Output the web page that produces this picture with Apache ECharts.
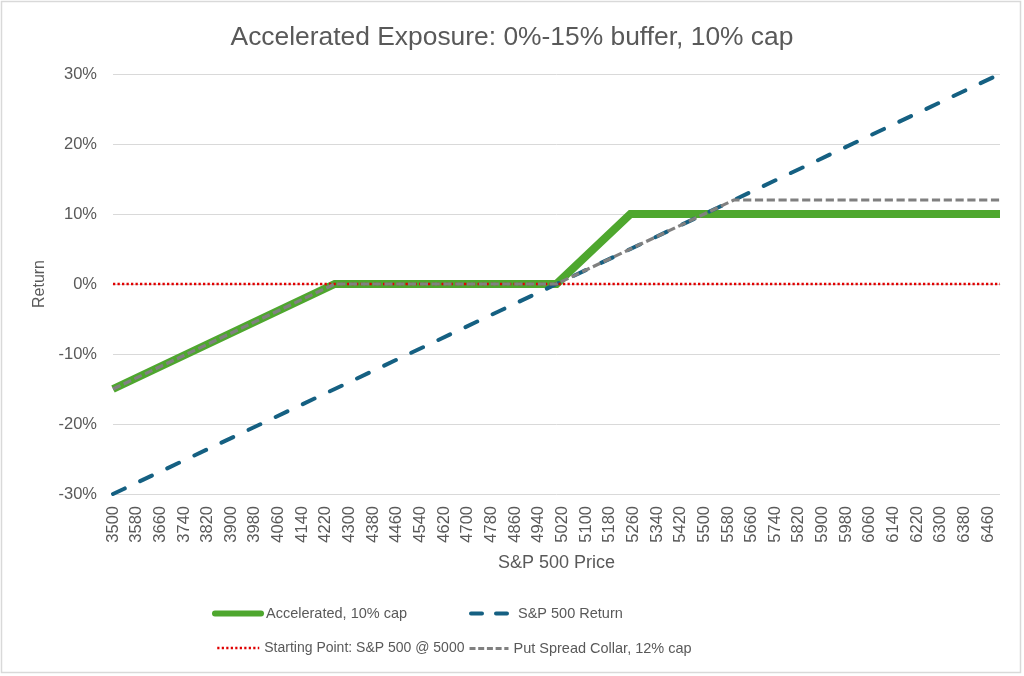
<!DOCTYPE html>
<html>
<head>
<meta charset="utf-8">
<script src="https://cdn.jsdelivr.net/npm/echarts@6/dist/echarts.min.js"></script>
<style>
html,body{margin:0;padding:0;background:#fff;}
#chart{width:1024px;height:676px;}
</style>
</head>
<body>
<div id="chart"></div>
<script>
const chartTitle = 'Accelerated Exposure: 0%-15% buffer, 10% cap';
const xAxisName = 'S&P 500 Price';
const yAxisName = 'Return';
// S&P 500 price points where the payoff lines change slope
const prices = [3500, 4250, 5000, 5250, 5600, 6500];
// returns in percent at each price
const accelerated = [-15, 0, 0, 10, 10, 10];
const sp500Return = [-30, -15, 0, 5, 12, 30];
const startingPoint = [0, 0, 0, 0, 0, 0];
const putSpreadCollar = [-15, 0, 0, 5, 12, 12];
const seriesNames = ['Accelerated, 10% cap', 'S&P 500 Return', 'Starting Point: S&P 500 @ 5000', 'Put Spread Collar, 12% cap'];
const xTickLabels = [3500, 3580, 3660, 3740, 3820, 3900, 3980, 4060, 4140, 4220, 4300, 4380, 4460, 4540, 4620, 4700, 4780, 4860, 4940, 5020, 5100, 5180, 5260, 5340, 5420, 5500, 5580, 5660, 5740, 5820, 5900, 5980, 6060, 6140, 6220, 6300, 6380, 6460];
const yMin = -30, yMax = 30, yStep = 10;

const FONT = '"Liberation Sans", Arial, sans-serif';
const TXT = '#595959';
const pair = arr => prices.map((p, i) => [p, arr[i]]);

const chart = echarts.init(document.getElementById('chart'), null, {renderer: 'canvas'});

function legendAt(name, left, top, itemWidth, lineStyle, fontSize) {
  return {
    data: [name], left: left, top: top, orient: 'horizontal', padding: 0,
    itemWidth: itemWidth, itemHeight: 14, selectedMode: false,
    textStyle: {color: TXT, fontFamily: FONT, fontSize: fontSize},
    itemStyle: {opacity: 0},
    lineStyle: lineStyle
  };
}

chart.setOption({
  animation: false,
  backgroundColor: '#ffffff',
  title: {
    text: chartTitle, left: 'center', top: 25, padding: 0,
    textStyle: {color: TXT, fontFamily: FONT, fontSize: 26.4, fontWeight: 'normal'}
  },
  graphic: [{
    type: 'rect', silent: true, z: -10,
    shape: {x: 1.5, y: 1.5, width: 1019, height: 671},
    style: {fill: 'none', stroke: '#d9d9d9', lineWidth: 1.5}
  }],
  legend: [
    legendAt(seriesNames[0], 212, 606, 46, {width: 6, cap: 'round', type: 'solid', opacity: 1}, 14.5),
    legendAt(seriesNames[1], 469, 606, 42, {width: 4, cap: 'round', type: [11, 14], opacity: 1}, 14.5),
    legendAt(seriesNames[2], 216, 641, 42, {width: 2.5, type: [2.2, 2.3], opacity: 1}, 14),
    legendAt(seriesNames[3], 468, 641, 39, {width: 3, type: [6, 2.7], opacity: 1}, 14.5)
  ],
  grid: {left: 113, right: 24, top: 74, bottom: 182, containLabel: false},
  xAxis: {
    type: 'value', min: prices[0], max: prices[prices.length - 1],
    name: xAxisName, nameLocation: 'middle', nameGap: 60,
    nameTextStyle: {color: TXT, fontFamily: FONT, fontSize: 18},
    axisLine: {show: true, lineStyle: {color: '#d9d9d9', width: 1}},
    axisTick: {show: false},
    splitLine: {show: false},
    axisLabel: {
      customValues: xTickLabels, rotate: 90, margin: 12,
      color: TXT, fontFamily: FONT, fontSize: 16.5,
      formatter: v => String(v)
    }
  },
  yAxis: {
    type: 'value', min: yMin, max: yMax, interval: yStep,
    name: yAxisName, nameLocation: 'middle', nameGap: 61, nameRotate: 90,
    nameTextStyle: {color: TXT, fontFamily: FONT, fontSize: 16},
    axisLine: {show: false}, axisTick: {show: false},
    splitLine: {show: true, lineStyle: {color: '#d9d9d9', width: 1}},
    axisLabel: {formatter: '{value}%', margin: 16, color: TXT, fontFamily: FONT, fontSize: 16.5}
  },
  series: [
    {name: seriesNames[0], type: 'line', data: pair(accelerated), symbol: 'none',
     lineStyle: {color: '#4EA72E', width: 8, cap: 'butt', join: 'miter'}, itemStyle: {color: '#4EA72E'}},
    {name: seriesNames[1], type: 'line', data: pair(sp500Return), symbol: 'none',
     lineStyle: {color: '#156082', width: 4, type: [13, 17], cap: 'round'}, itemStyle: {color: '#156082'}},
    {name: seriesNames[2], type: 'line', data: pair(startingPoint), symbol: 'none',
     lineStyle: {color: '#E00000', width: 2.5, type: [2.3, 2.2], cap: 'butt'}, itemStyle: {color: '#E00000'}},
    {name: seriesNames[3], type: 'line', data: pair(putSpreadCollar), symbol: 'none',
     lineStyle: {color: '#808080', width: 3.2, type: [8.2, 3.6], cap: 'butt'}, itemStyle: {color: '#808080'}}
  ]
});
</script>
</body>
</html>
